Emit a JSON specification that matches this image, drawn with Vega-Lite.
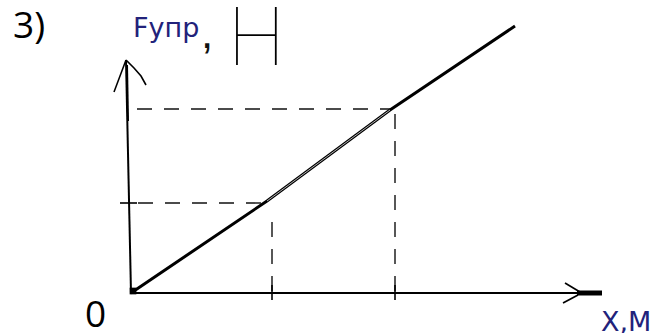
{
  "$schema": "https://vega.github.io/schema/vega-lite/v6.json",
  "width": 650,
  "height": 333,
  "autosize": {"type": "none"},
  "padding": 0,
  "background": "white",
  "config": {"view": {"stroke": null}},
  "datasets": {
    "seg": [
      {"part": "axis", "x": 0, "y": 0, "x2": 4.46, "y2": 0},
      {"part": "axis", "x": 0, "y": 0, "x2": -0.05, "y2": 2.33},
      {"part": "axis", "x": -0.04, "y": 2.28, "x2": -0.03, "y2": 1.72},
      {"part": "arrowend", "x": 4.46, "y": 0, "x2": 4.71, "y2": 0},
      {"part": "thin", "x": 4.34, "y": 0.10, "x2": 4.49, "y2": 0.01},
      {"part": "thin", "x": 4.32, "y": -0.10, "x2": 4.47, "y2": -0.02},
      {"part": "thin", "x": -0.05, "y": 2.33, "x2": -0.17, "y2": 2.01},
      {"part": "thin", "x": 1.41, "y": 0.08, "x2": 1.41, "y2": -0.07},
      {"part": "thin", "x": 2.64, "y": 0.08, "x2": 2.64, "y2": -0.07},
      {"part": "thin", "x": -0.11, "y": 0.90, "x2": 0.06, "y2": 0.90},
      {"part": "guide", "x": 0.07, "y": 0.90, "x2": 1.36, "y2": 0.90},
      {"part": "guide", "x": 0.06, "y": 1.84, "x2": 2.59, "y2": 1.84},
      {"part": "guide", "x": 1.41, "y": 0.02, "x2": 1.41, "y2": 0.80},
      {"part": "guide", "x": 2.64, "y": 0.02, "x2": 2.64, "y2": 1.80}
    ],
    "graph": [
      {"x": 0, "y": 0},
      {"x": 1.36, "y": 0.92},
      {"x": 2.59, "y": 1.83},
      {"x": 3.84, "y": 2.67}
    ],
    "hook": [
      {"x": -0.05, "y": 2.33},
      {"x": 0.03, "y": 2.25},
      {"x": 0.10, "y": 2.17},
      {"x": 0.15, "y": 2.08}
    ],
    "origin": [{"x": 0.02, "y": 0.02}],
    "labels": [
      {"kind": "num", "label": "3)", "x": -1.18, "y": 2.55},
      {"kind": "num", "label": "0", "x": -0.46, "y": -0.34},
      {"kind": "blue", "label": "Fупр", "x": 0.02, "y": 2.56},
      {"kind": "blue", "label": "X,M", "x": 4.70, "y": -0.38},
      {"kind": "comma", "label": ",", "x": 0.70, "y": 2.45},
      {"kind": "unit", "label": "Н", "x": 0.96, "y": 2.28}
    ]
  },
  "encoding": {
    "x": {"field": "x", "type": "quantitative", "scale": {"domain": [-1.31, 5.19], "nice": false, "zero": false}, "axis": null},
    "y": {"field": "y", "type": "quantitative", "scale": {"domain": [-0.40, 2.93], "nice": false, "zero": false}, "axis": null}
  },
  "layer": [
    {
      "data": {"name": "seg"},
      "transform": [{"filter": "datum.part === 'guide'"}],
      "mark": {"type": "rule", "color": "#111111", "strokeWidth": 1.4, "strokeDash": [15, 12]},
      "encoding": {"x2": {"field": "x2"}, "y2": {"field": "y2"}}
    },
    {
      "data": {"name": "seg"},
      "transform": [{"filter": "datum.part === 'axis'"}],
      "mark": {"type": "rule", "color": "#000000", "strokeWidth": 2},
      "encoding": {"x2": {"field": "x2"}, "y2": {"field": "y2"}}
    },
    {
      "data": {"name": "seg"},
      "transform": [{"filter": "datum.part === 'arrowend'"}],
      "mark": {"type": "rule", "color": "#000000", "strokeWidth": 5},
      "encoding": {"x2": {"field": "x2"}, "y2": {"field": "y2"}}
    },
    {
      "data": {"name": "seg"},
      "transform": [{"filter": "datum.part === 'thin'"}],
      "mark": {"type": "rule", "color": "#000000", "strokeWidth": 1.6},
      "encoding": {"x2": {"field": "x2"}, "y2": {"field": "y2"}}
    },
    {
      "data": {"name": "hook"},
      "mark": {"type": "line", "color": "#000000", "strokeWidth": 1.6},
      "encoding": {}
    },
    {
      "data": {"name": "graph"},
      "mark": {"type": "line", "color": "#000000", "strokeWidth": 3},
      "encoding": {}
    },
    {
      "data": {"name": "graph"},
      "transform": [{"filter": "datum.x >= 1.36 && datum.x <= 2.59"}],
      "mark": {"type": "line", "color": "#c8c8c8", "strokeWidth": 0.9},
      "encoding": {}
    },
    {
      "data": {"name": "origin"},
      "mark": {"type": "point", "shape": "square", "filled": true, "color": "#000000", "size": 45, "opacity": 1},
      "encoding": {}
    },
    {
      "data": {"name": "labels"},
      "transform": [{"filter": "datum.kind === 'num'"}],
      "mark": {"type": "text", "font": "Open Sans", "fontSize": 37, "color": "#000000", "align": "left", "baseline": "alphabetic"},
      "encoding": {"text": {"field": "label"}}
    },
    {
      "data": {"name": "labels"},
      "transform": [{"filter": "datum.kind === 'blue'"}],
      "mark": {"type": "text", "font": "DejaVu Sans", "fontSize": 27, "color": "#22227a", "align": "left", "baseline": "alphabetic"},
      "encoding": {"text": {"field": "label"}}
    },
    {
      "data": {"name": "labels"},
      "transform": [{"filter": "datum.kind === 'comma'"}],
      "mark": {"type": "text", "font": "Liberation Sans", "fontSize": 44, "color": "#111111", "align": "left", "baseline": "alphabetic"},
      "encoding": {"text": {"field": "label"}}
    },
    {
      "data": {"name": "labels"},
      "transform": [{"filter": "datum.kind === 'unit'"}],
      "mark": {"type": "text", "font": "Inter", "fontWeight": 100, "fontSize": 80, "color": "#000000", "align": "left", "baseline": "alphabetic"},
      "encoding": {"text": {"field": "label"}}
    }
  ]
}
